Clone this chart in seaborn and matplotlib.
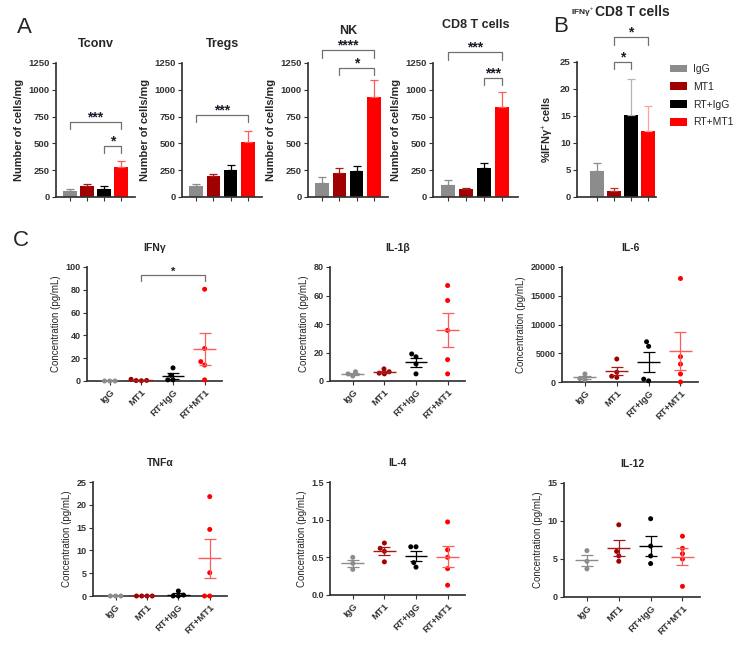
import numpy as np
import pandas as pd
import matplotlib.pyplot as plt
import seaborn as sns
from matplotlib.patches import Patch

sns.set_theme(style="ticks")
plt.rcParams['font.family'] = ['Liberation Sans', 'DejaVu Sans']
plt.rcParams['mathtext.fontset'] = 'custom'
plt.rcParams['mathtext.rm'] = 'Liberation Sans'
plt.rcParams['mathtext.bf'] = 'Liberation Sans:bold'
plt.rcParams['axes.edgecolor'] = '#333333'
plt.rcParams['xtick.color'] = '#333333'
plt.rcParams['ytick.color'] = '#333333'

groups = ['IgG', 'MT1', 'RT+IgG', 'RT+MT1']
colors = ['#8c8c8c', '#a00000', '#000000', '#ff0000']
line_colors = ['#8c8c8c', '#a81818', '#000000', '#ff5a5a']
b_err_colors = ['#8c8c8c', '#c03030', '#b4b4b4', '#ffa0a0']

# panel A / B: bar means and SEMs
tconv_mean = [55, 100, 78, 280]
tconv_sem = [15, 22, 20, 55]
tregs_mean = [100, 195, 255, 510]
tregs_sem = [25, 15, 45, 110]
nk_mean = [135, 225, 245, 935]
nk_sem = [50, 50, 40, 155]
cd8_mean = [110, 75, 272, 842]
cd8_sem = [50, 10, 46, 140]
ifng_cd8_mean = [4.8, 1.1, 15.2, 12.2]
ifng_cd8_sem = [1.5, 0.5, 6.6, 4.7]

# significance brackets: (group i, group j, height, label)
tconv_sig = [(0, 3, 700, '***'), (2, 3, 478, '*')]
tregs_sig = [(0, 3, 765, '***')]
nk_sig = [(0, 3, 1370, '****'), (1, 3, 1205, '*')]
cd8_sig = [(0, 3, 1350, '***'), (2, 3, 1110, '***')]
ifng_cd8_sig = [(1, 3, 29.6, '*'), (1, 2, 25.0, '*')]

# panel C: individual points per group
ifng = [[0, 0, 0], [0.5, 1.5, 0.4, 0.2], [11.5, 5, 1.0, 1.0], [80.5, 28.5, 17, 14, 1]]
il1b = [[6.5, 5.0, 3.5], [8.5, 6.5, 5.0, 5.5], [19, 17, 12, 5], [67, 56.5, 35.5, 15, 5]]
il6 = [[1400, 600, 400], [4000, 1700, 1000, 800], [7000, 6200, 500, 200],
       [18000, 4400, 3100, 1400, 0]]
tnfa = [[0, 0, 0], [0, 0, 0, 0], [1.1, 0.2, 0, 0], [21.8, 14.6, 5.1, 0, 0]]
il4 = [[0.50, 0.42, 0.34], [0.69, 0.62, 0.58, 0.44], [0.64, 0.64, 0.43, 0.37],
       [0.97, 0.60, 0.50, 0.35, 0.13]]
il12 = [[6.1, 4.7, 3.7], [9.5, 6.0, 5.4, 4.7], [10.3, 6.7, 5.4, 4.4], [8.0, 6.4, 5.7, 5.0, 1.4]]
ifng_sig = [(1, 3, 93, '*')]

W, H = 738, 650
fig = plt.figure(figsize=(W / 100, H / 100), dpi=100)


def px_axes(left, top, right, bottom):
    return fig.add_axes([left / W, 1 - bottom / H, (right - left) / W, (bottom - top) / H])


def add_brackets(ax, sig, ymax, fs):
    drop = 0.055 * ymax
    for i, j, y, label in sig:
        ax.plot([i, i, j, j], [y - drop, y, y, y - drop], color='#707070', lw=0.9, clip_on=False)
        ax.text((i + j) / 2, y + 0.005 * ymax, label, ha='center', va='baseline',
                fontsize=fs, fontweight='bold', color='#1a1a2a', clip_on=False)


def bar_panel(ax, means, sems, sig, ymax, step, title, title_pad, ylabel, xlim, err_colors):
    sns.barplot(x=groups, y=means, hue=groups, palette=colors, saturation=1, width=0.78,
                errorbar=None, legend=False, linewidth=0, ax=ax)
    for i in range(4):
        ax.errorbar(i, means[i], yerr=[[0], [sems[i]]], fmt='none', ecolor=err_colors[i],
                    elinewidth=0.9, capsize=3, capthick=0.9)
    ticks = np.arange(0, ymax + step / 2, step)
    ax.set_ylim(0, ymax)
    ax.set_yticks(ticks, labels=[f'{t:g}' for t in ticks], fontsize=6.8, fontweight='bold')
    ax.set_xlim(*xlim)
    ax.set_xticks(range(4))
    ax.tick_params(axis='x', length=3, width=0.8, labelbottom=False)
    ax.tick_params(axis='y', length=3, width=0.8, pad=1.5)
    ax.set_xlabel('')
    ax.set_ylabel(ylabel, fontsize=7.9, fontweight='bold', labelpad=3)
    if title:
        ax.set_title(title, fontsize=9, fontweight='bold', pad=title_pad)
    sns.despine(ax=ax)
    add_brackets(ax, sig, ymax, 10)


ylab_a = 'Number of cells/mg'
bar_panel(px_axes(56, 63, 135, 197), tconv_mean, tconv_sem, tconv_sig, 1250, 250,
          'Tconv', 11.5, ylab_a, (-0.82, 3.82), line_colors)
bar_panel(px_axes(182, 63, 262, 197), tregs_mean, tregs_sem, tregs_sig, 1250, 250,
          'Tregs', 11.5, ylab_a, (-0.82, 3.82), line_colors)
bar_panel(px_axes(308, 63, 388, 197), nk_mean, nk_sem, nk_sig, 1250, 250,
          'NK', 21, ylab_a, (-0.82, 3.82), line_colors)
bar_panel(px_axes(433, 63, 518, 197), cd8_mean, cd8_sem, cd8_sig, 1250, 250,
          'CD8 T cells', 25, ylab_a, (-0.82, 3.9), line_colors)
bar_panel(px_axes(577, 62, 656, 197), ifng_cd8_mean, ifng_cd8_sem, ifng_cd8_sig, 25, 5,
          None, 0, '%IFNγ$^{+}$ cells', (-1.18, 3.47), b_err_colors)

fig.text(594 / W, 1 - 14 / H, 'IFNγ$^{+}$', ha='right', va='baseline', fontsize=6,
         fontweight='bold')
fig.text(595 / W, 1 - 16 / H, 'CD8 T cells', ha='left', va='baseline', fontsize=10,
         fontweight='bold')

handles = [Patch(facecolor=c, edgecolor='none') for c in colors]
fig.legend(handles, groups, loc='upper left', bbox_to_anchor=(670 / W, 1 - 64 / H),
           frameon=False, fontsize=7.5, handlelength=1.65, handleheight=0.72,
           handletextpad=0.55, labelspacing=0.75, borderpad=0, borderaxespad=0)


def scatter_panel(ax, values, title, ymax, step, fmt, sig=None):
    df = pd.DataFrame({
        'group': np.repeat(groups, [len(v) for v in values]),
        'value': np.concatenate(values),
    })
    sns.swarmplot(data=df, x='group', y='value', hue='group', order=groups,
                  palette=colors, size=3.6, legend=False, ax=ax)
    for coll in ax.collections:
        coll.set_clip_on(False)
    for i, v in enumerate(values):
        v = np.asarray(v, dtype=float)
        m = v.mean()
        se = v.std(ddof=1) / np.sqrt(len(v))
        ax.hlines(m, i - 0.36, i + 0.36, color=line_colors[i], lw=1.0, zorder=4)
        ax.errorbar(i, m, yerr=se, fmt='none', ecolor=line_colors[i], elinewidth=0.9,
                    capsize=4.5, capthick=0.9, zorder=4)
    ticks = np.arange(0, ymax + step / 2, step)
    ax.set_ylim(0, ymax)
    ax.set_yticks(ticks, labels=[fmt.format(t) for t in ticks], fontsize=6.5,
                  fontweight='bold')
    ax.set_xlim(-0.72, 3.55)
    ax.set_xticks(range(4), labels=groups, rotation=45, ha='right', rotation_mode='anchor',
                  fontsize=6.8, fontweight='bold')
    ax.tick_params(axis='x', length=3, width=0.8, pad=2)
    ax.tick_params(axis='y', length=3, width=0.8, pad=1.5)
    ax.set_xlabel('')
    ax.set_ylabel('Concentration (pg/mL)', fontsize=7, labelpad=3)
    ax.set_title(title, fontsize=7.5, fontweight='bold', pad=11.5)
    sns.despine(ax=ax)
    if sig:
        add_brackets(ax, sig, ymax, 8)


scatter_panel(px_axes(87, 267, 222, 381), ifng, 'IFNγ', 100, 20, '{:g}', ifng_sig)
scatter_panel(px_axes(330, 267, 465, 381), il1b, 'IL-1β', 80, 20, '{:g}')
scatter_panel(px_axes(562, 267, 698, 382), il6, 'IL-6', 20000, 5000, '{:g}')
scatter_panel(px_axes(93, 482, 227, 596), tnfa, 'TNFα', 25, 5, '{:g}')
scatter_panel(px_axes(330, 482, 465, 595), il4, 'IL-4', 1.5, 0.5, '{:.1f}')
scatter_panel(px_axes(564, 483, 700, 597), il12, 'IL-12', 15, 5, '{:g}')

fig.text(17 / W, 1 - 33 / H, 'A', fontsize=16, va='baseline')
fig.text(553 / W, 1 - 32 / H, 'B', fontsize=16, va='baseline')
fig.text(13 / W, 1 - 246 / H, 'C', fontsize=16, va='baseline')

fig.savefig('out.png', dpi=100)
